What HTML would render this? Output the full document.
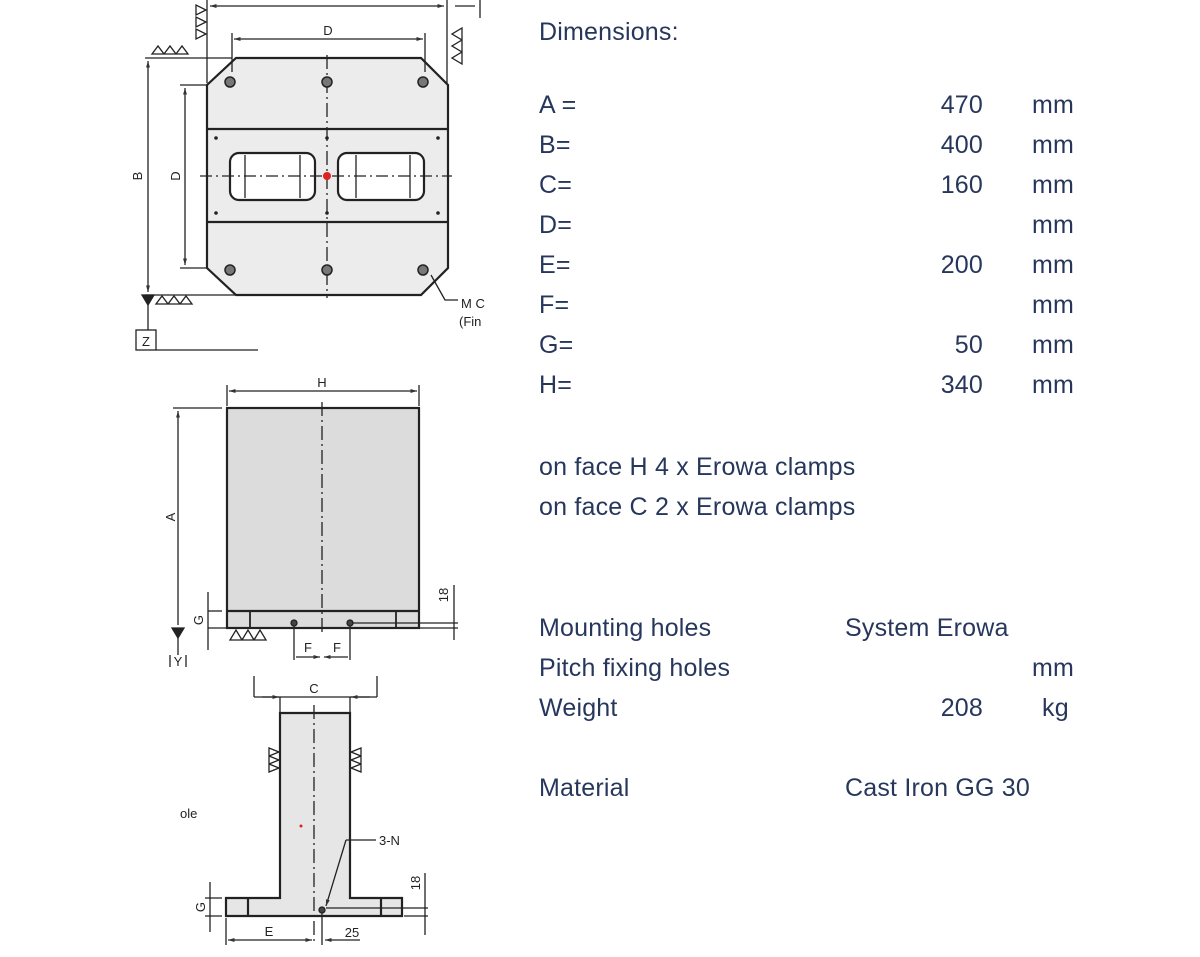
<!DOCTYPE html>
<html><head><meta charset="utf-8"><style>
html,body{margin:0;padding:0;background:#fff;}
svg{display:block;}
.t{font-family:"Liberation Sans",sans-serif;font-size:25px;fill:#27375c;letter-spacing:0.2px;}
.d{font-family:"Liberation Sans",sans-serif;font-size:13px;fill:#222;}
</style></head><body>
<svg width="1200" height="957" viewBox="0 0 1200 957" xmlns="http://www.w3.org/2000/svg">
<defs>
<marker id="a" viewBox="0 0 10 10" refX="10" refY="5" markerWidth="7" markerHeight="5" orient="auto-start-reverse"><path d="M0,2 L10,5 L0,8z" fill="#333"/></marker>
</defs>
<g stroke="#222" fill="none" stroke-width="1.3">
<!-- TOP VIEW -->
<path d="M236,58 L421,58 L448,85 L448,268 L421,295 L236,295 L207,268 L207,85Z" fill="#ececec" stroke-width="2.2"/>
<line x1="207" y1="129" x2="448" y2="129" stroke-width="2.2"/>
<line x1="207" y1="222" x2="448" y2="222" stroke-width="2.2"/>
<rect x="230" y="153" width="85" height="47" rx="9" fill="#fff" stroke-width="2.2"/>
<rect x="338" y="153" width="86" height="47" rx="9" fill="#fff" stroke-width="2.2"/>
<line x1="245" y1="155" x2="245" y2="198"/><line x1="300" y1="155" x2="300" y2="198"/>
<line x1="356" y1="155" x2="356" y2="198"/><line x1="410" y1="155" x2="410" y2="198"/>
<line x1="200" y1="176" x2="452" y2="176" stroke-dasharray="12,4,2,4"/>
<line x1="327" y1="55" x2="327" y2="298" stroke-dasharray="14,4,2,4"/>
<g fill="#777" stroke="#222" stroke-width="1.5">
<circle cx="230" cy="82" r="5"/><circle cx="327" cy="82" r="5"/><circle cx="423" cy="82" r="5"/>
<circle cx="230" cy="270" r="5"/><circle cx="327" cy="270" r="5"/><circle cx="423" cy="270" r="5"/>
</g>
<g fill="#222" stroke="none">
<circle cx="216" cy="138" r="1.8"/><circle cx="327" cy="138" r="1.8"/><circle cx="438" cy="138" r="1.8"/>
<circle cx="216" cy="213" r="1.8"/><circle cx="327" cy="213" r="1.8"/><circle cx="438" cy="213" r="1.8"/>
</g>
<circle cx="327" cy="176" r="4" fill="#d22" stroke="none"/>
<line x1="232" y1="33" x2="232" y2="72"/><line x1="425" y1="33" x2="425" y2="72"/>
<line x1="234" y1="39" x2="423" y2="39" marker-start="url(#a)" marker-end="url(#a)"/>
<line x1="207" y1="0" x2="207" y2="83"/><line x1="447" y1="0" x2="447" y2="83"/>
<line x1="210" y1="6" x2="444" y2="6" marker-start="url(#a)" marker-end="url(#a)"/>
<line x1="455" y1="6" x2="475" y2="6"/><line x1="480" y1="0" x2="480" y2="18"/>
<line x1="145" y1="58" x2="232" y2="58"/><line x1="145" y1="295" x2="235" y2="295"/>
<line x1="148" y1="61" x2="148" y2="292" marker-start="url(#a)" marker-end="url(#a)"/>
<line x1="180" y1="85" x2="207" y2="85"/><line x1="180" y1="268" x2="207" y2="268"/>
<line x1="185" y1="88" x2="185" y2="265" marker-start="url(#a)" marker-end="url(#a)"/>
<line x1="148" y1="295" x2="148" y2="330"/>
<rect x="136" y="330" width="20" height="20"/>
<line x1="156" y1="350" x2="258" y2="350"/>
<path d="M142,295 L154,295 L148,305Z" fill="#222"/>
<path d="M156,304 L168,304 L162,296Z M168,304 L180,304 L174,296Z M180,304 L192,304 L186,296Z"/>
<path d="M152,54 L164,54 L158,46Z M164,54 L176,54 L170,46Z M176,54 L188,54 L182,46Z"/>
<path d="M196,5 L196,15 L206,10Z M196,17 L196,27 L206,22Z M196,29 L196,39 L206,34Z"/>
<path d="M462,28 L462,40 L452,34Z M462,40 L462,52 L452,46Z M462,52 L462,64 L452,58Z"/>
<path d="M431,275 L445,300 L458,300"/>
</g>
<text class="d" x="328" y="35" text-anchor="middle" font-size="15">D</text>
<text class="d" x="461" y="308" font-size="12">M C</text>
<text class="d" x="459" y="326" font-size="12">(Fin</text>
<text class="d" x="146" y="346" text-anchor="middle" font-size="14">Z</text>
<text class="d" transform="translate(142,176) rotate(-90)" text-anchor="middle" font-size="15">B</text>
<text class="d" transform="translate(180,176) rotate(-90)" text-anchor="middle" font-size="15">D</text>

<!-- SIDE VIEW -->
<g stroke="#222" fill="none" stroke-width="1.3">
<rect x="227" y="408" width="192" height="220" fill="#dcdcdc" stroke-width="2.2"/>
<line x1="227" y1="611" x2="419" y2="611" stroke-width="2.2"/>
<line x1="250" y1="611" x2="250" y2="628" stroke-width="1.8"/>
<line x1="396" y1="611" x2="396" y2="628" stroke-width="1.8"/>
<line x1="322" y1="402" x2="322" y2="635" stroke-dasharray="14,4,2,4"/>
<circle cx="294" cy="623" r="3" fill="#444"/><circle cx="350" cy="623" r="3" fill="#444"/>
<line x1="227" y1="385" x2="227" y2="406"/><line x1="419" y1="385" x2="419" y2="406"/>
<line x1="229" y1="391" x2="417" y2="391" marker-start="url(#a)" marker-end="url(#a)"/>
<line x1="173" y1="408" x2="222" y2="408"/>
<line x1="178" y1="411" x2="178" y2="625" marker-start="url(#a)"/>
<line x1="178" y1="628" x2="178" y2="655"/>
<path d="M172,628 L184,628 L178,638Z" fill="#222"/>
<line x1="170" y1="655" x2="170" y2="667"/><line x1="186" y1="655" x2="186" y2="667"/>
<path d="M230,640 L236,630 L242,640Z M242,640 L248,630 L254,640Z M254,640 L260,630 L266,640Z"/>
<line x1="208" y1="611" x2="222" y2="611"/>
<line x1="208" y1="628" x2="227" y2="628"/>
<line x1="208" y1="592" x2="208" y2="650"/>
<line x1="294" y1="626" x2="294" y2="660"/><line x1="350" y1="626" x2="350" y2="660"/>
<line x1="296" y1="657" x2="320" y2="657" marker-end="url(#a)"/>
<line x1="324" y1="657" x2="348" y2="657" marker-start="url(#a)"/>
<line x1="353" y1="623" x2="458" y2="623"/>
<line x1="420" y1="628" x2="458" y2="628"/>
<line x1="454" y1="585" x2="454" y2="640"/>
</g>
<text class="d" x="322" y="387" text-anchor="middle" font-size="14">H</text>
<text class="d" transform="translate(175,517) rotate(-90)" text-anchor="middle" font-size="14">A</text>
<text class="d" transform="translate(203,620) rotate(-90)" text-anchor="middle" font-size="13">G</text>
<text class="d" x="308" y="652" text-anchor="middle">F</text>
<text class="d" x="337" y="652" text-anchor="middle">F</text>
<text class="d" transform="translate(448,595) rotate(-90)" text-anchor="middle" font-size="11">18</text>
<text class="d" x="178" y="666" text-anchor="middle" font-size="11">Y</text>

<!-- BOTTOM VIEW -->
<g stroke="#222" fill="none" stroke-width="1.3">
<path d="M280,713 L350,713 L350,898 L402,898 L402,916 L226,916 L226,898 L280,898Z" fill="#e6e6e6" stroke-width="2.2"/>
<line x1="248" y1="898" x2="248" y2="916" stroke-width="2.2"/>
<line x1="381" y1="898" x2="381" y2="916" stroke-width="2.2"/>
<line x1="314" y1="705" x2="314" y2="945" stroke-dasharray="14,4,2,4"/>
<circle cx="322" cy="910" r="3" fill="#444"/>
<line x1="254" y1="676" x2="254" y2="697"/><line x1="377" y1="676" x2="377" y2="697"/>
<line x1="254" y1="697" x2="377" y2="697"/>
<line x1="262" y1="697" x2="279" y2="697" marker-end="url(#a)"/>
<line x1="370" y1="697" x2="351" y2="697" marker-end="url(#a)"/>
<line x1="280" y1="697" x2="280" y2="713"/><line x1="350" y1="697" x2="350" y2="713"/>
<path d="M269,748 L279,752 L269,756Z M269,756 L279,760 L269,764Z M269,764 L279,768 L269,772Z"/>
<path d="M361,748 L351,752 L361,756Z M361,756 L351,760 L361,764Z M361,764 L351,768 L361,772Z"/>
<line x1="226" y1="918" x2="226" y2="945"/>
<line x1="228" y1="940" x2="312" y2="940" marker-start="url(#a)" marker-end="url(#a)"/>
<line x1="322" y1="913" x2="322" y2="945"/>
<line x1="325" y1="940" x2="360" y2="940" marker-start="url(#a)"/>
<line x1="346" y1="840" x2="326" y2="906" marker-end="url(#a)"/>
<line x1="346" y1="840" x2="376" y2="840"/>
<line x1="205" y1="898" x2="222" y2="898"/><line x1="205" y1="916" x2="222" y2="916"/>
<line x1="210" y1="882" x2="210" y2="932"/>
<line x1="326" y1="908" x2="428" y2="908"/><line x1="404" y1="916" x2="428" y2="916"/>
<line x1="425" y1="873" x2="425" y2="935"/>
</g>
<circle cx="301" cy="826" r="1.5" fill="#d22"/>
<text class="d" x="314" y="693" text-anchor="middle" font-size="13">C</text>
<text class="d" x="180" y="818" font-size="11">ole</text>
<text class="d" x="379" y="845" font-size="10">3-N</text>
<text class="d" transform="translate(205,907) rotate(-90)" text-anchor="middle" font-size="13">G</text>
<text class="d" x="269" y="936" text-anchor="middle" font-size="13">E</text>
<text class="d" x="352" y="937" text-anchor="middle" font-size="13">25</text>
<text class="d" transform="translate(420,883) rotate(-90)" text-anchor="middle" font-size="11">18</text>

<!-- TEXT -->
<text class="t" x="539" y="40">Dimensions:</text>
<text class="t" x="539" y="113">A =</text><text class="t" x="983" y="113" text-anchor="end">470</text><text class="t" x="1032" y="113">mm</text>
<text class="t" x="539" y="153">B=</text><text class="t" x="983" y="153" text-anchor="end">400</text><text class="t" x="1032" y="153">mm</text>
<text class="t" x="539" y="193">C=</text><text class="t" x="983" y="193" text-anchor="end">160</text><text class="t" x="1032" y="193">mm</text>
<text class="t" x="539" y="233">D=</text><text class="t" x="1032" y="233">mm</text>
<text class="t" x="539" y="273">E=</text><text class="t" x="983" y="273" text-anchor="end">200</text><text class="t" x="1032" y="273">mm</text>
<text class="t" x="539" y="313">F=</text><text class="t" x="1032" y="313">mm</text>
<text class="t" x="539" y="353">G=</text><text class="t" x="983" y="353" text-anchor="end">50</text><text class="t" x="1032" y="353">mm</text>
<text class="t" x="539" y="393">H=</text><text class="t" x="983" y="393" text-anchor="end">340</text><text class="t" x="1032" y="393">mm</text>
<text class="t" x="539" y="475">on face H 4 x Erowa clamps</text>
<text class="t" x="539" y="515">on face C 2 x Erowa clamps</text>
<text class="t" x="539" y="636">Mounting holes</text><text class="t" x="845" y="636">System Erowa</text>
<text class="t" x="539" y="676">Pitch fixing holes</text><text class="t" x="1032" y="676">mm</text>
<text class="t" x="539" y="716">Weight</text><text class="t" x="983" y="716" text-anchor="end">208</text><text class="t" x="1042" y="716">kg</text>
<text class="t" x="539" y="796">Material</text><text class="t" x="845" y="796">Cast Iron GG 30</text>
</svg>
</body></html>
